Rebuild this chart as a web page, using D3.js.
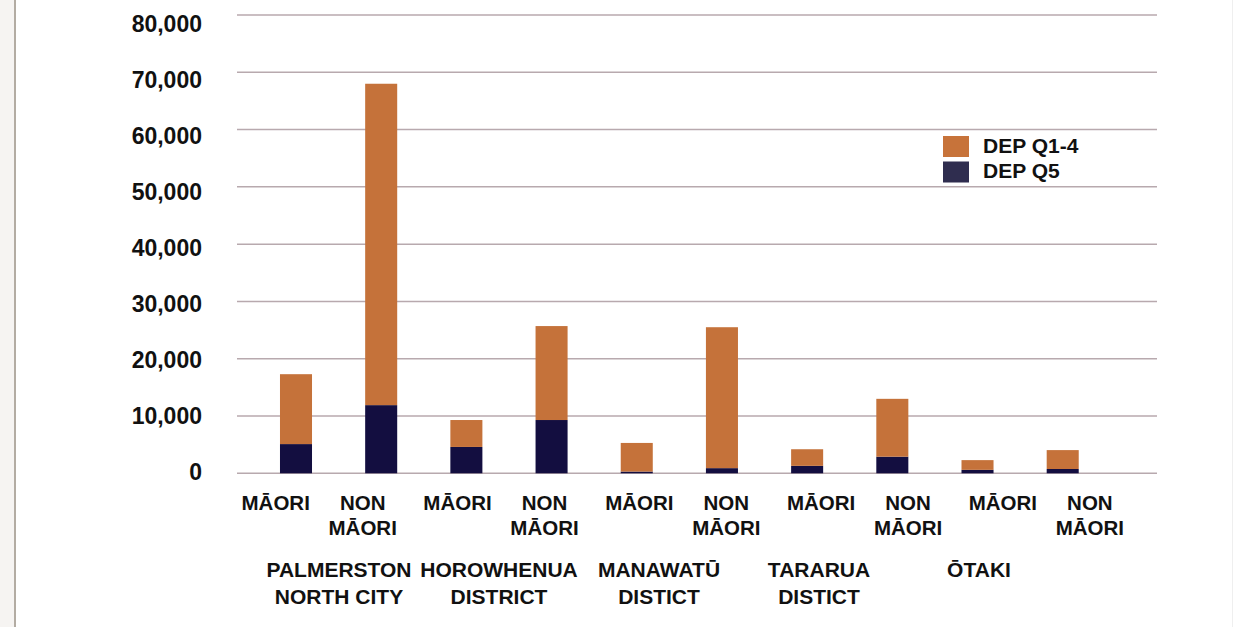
<!DOCTYPE html>
<html>
<head>
<meta charset="utf-8">
<script src="https://cdn.jsdelivr.net/npm/d3@7"></script>
<style>
  html, body { margin: 0; padding: 0; background: #ffffff; }
  svg { display: block; }
  text { font-family: "Liberation Sans", Arial, Helvetica, sans-serif; font-weight: bold; fill: #111111; }
</style>
</head>
<body>
<svg id="chart" width="1233" height="627"></svg>
<script>
// Districts (two-line labels) and the Māori / non-Māori split within each
const districts = ["PALMERSTON NORTH CITY", "HOROWHENUA DISTRICT", "MANAWATŪ DISTICT", "TARARUA DISTICT", "ŌTAKI"];
const districtLines = [["PALMERSTON", "NORTH CITY"], ["HOROWHENUA", "DISTRICT"], ["MANAWATŪ", "DISTICT"], ["TARARUA", "DISTICT"], ["ŌTAKI"]];
const groups = ["MĀORI", "NON MĀORI"];
const groupLines = { "MĀORI": ["MĀORI"], "NON MĀORI": ["NON", "MĀORI"] };

// Population by deprivation quintile, one value per district × group
const depQ5  = [5100, 11900, 4600, 9300, 300, 900, 1300, 2900, 600, 750];
const depQ14 = [12200, 56100, 4700, 16400, 5000, 24600, 2900, 10100, 1700, 3300];

const yTicks = [0, 10000, 20000, 30000, 40000, 50000, 60000, 70000, 80000];
const seriesNames = ["DEP Q1-4", "DEP Q5"];
const seriesColors = { "DEP Q1-4": "#c5723a", "DEP Q5": "#130e40" };
const legendColors = { "DEP Q1-4": "#c7733a", "DEP Q5": "#2f2d4f" };

const svg = d3.select("#chart");

// page frame on the left edge
svg.append("rect").attr("x", 0).attr("y", 0).attr("width", 14).attr("height", 627).attr("fill", "#f6f4f2");
svg.append("line").attr("x1", 15).attr("x2", 15).attr("y1", 0).attr("y2", 627)
  .attr("stroke", "#b3aca3").attr("stroke-width", 2);
svg.append("line").attr("x1", 1232.5).attr("x2", 1232.5).attr("y1", 0).attr("y2", 627)
  .attr("stroke", "#efefef").attr("stroke-width", 1);

// one row per bar
const rows = [];
districts.forEach((d, i) => {
  groups.forEach((g, j) => {
    const k = i * 2 + j;
    rows.push({ key: d + "|" + g, district: d, group: g, "DEP Q5": depQ5[k], "DEP Q1-4": depQ14[k] });
  });
});

const y = d3.scaleLinear().domain([0, 80000]).range([473.3, 15]);
const yLabel = d3.scaleLinear().domain([0, 80000]).range([471.5, 23.7]);

const x = d3.scaleBand().domain(rows.map(r => r.key)).range([253.4, 1105.3])
  .paddingInner(0.624).paddingOuter(0.312);

// category label positions
const xGroupLabel = d3.scaleBand().domain(districts).range([228.3, 1137.3]);
const xSub = d3.scalePoint().domain(groups).range([-43.5, 43.5]);
const xDistrict = d3.scaleBand().domain(districts).range([259, 1059]);

// gridlines
svg.append("g").selectAll("line").data(yTicks).join("line")
  .attr("x1", 237).attr("x2", 1157)
  .attr("y1", d => y(d)).attr("y2", d => y(d))
  .attr("stroke", "#b8a9ae").attr("stroke-width", 1.5);

// y tick labels
svg.append("g").selectAll("text").data(yTicks).join("text")
  .attr("x", 202).attr("y", d => yLabel(d)).attr("dy", "0.36em")
  .attr("text-anchor", "end").attr("font-size", 23)
  .text(d => d3.format(",")(d));

// stacked bars
const stack = d3.stack().keys(["DEP Q5", "DEP Q1-4"]);
const layers = stack(rows);
svg.append("g").selectAll("g").data(layers).join("g")
  .attr("fill", l => seriesColors[l.key])
  .selectAll("rect").data(l => l).join("rect")
  .attr("x", d => x(d.data.key))
  .attr("width", x.bandwidth())
  .attr("y", d => y(d[1]))
  .attr("height", d => y(d[0]) - y(d[1]));

// group labels under each bar
const subG = svg.append("g");
rows.forEach(r => {
  const cx = xGroupLabel(r.district) + xGroupLabel.bandwidth() / 2 + xSub(r.group);
  const t = subG.append("text").attr("text-anchor", "middle").attr("font-size", 20.5);
  groupLines[r.group].forEach((line, i) => {
    t.append("tspan").attr("x", cx).attr("y", 509.5 + i * 25.5).text(line);
  });
});

// district labels
const distG = svg.append("g");
districts.forEach((d, i) => {
  const cx = xDistrict(d) + xDistrict.bandwidth() / 2;
  const t = distG.append("text").attr("text-anchor", "middle").attr("font-size", 21);
  districtLines[i].forEach((line, j) => {
    t.append("tspan").attr("x", cx).attr("y", 576.5 + j * 27).text(line);
  });
});

// legend
const legend = svg.append("g");
seriesNames.forEach((s, i) => {
  legend.append("rect").attr("x", 943).attr("y", 136 + i * 25.5)
    .attr("width", 26).attr("height", 21).attr("fill", legendColors[s]);
  legend.append("text").attr("x", 983).attr("y", 152.7 + i * 25)
    .attr("font-size", 21).text(s);
});
</script>
</body>
</html>
